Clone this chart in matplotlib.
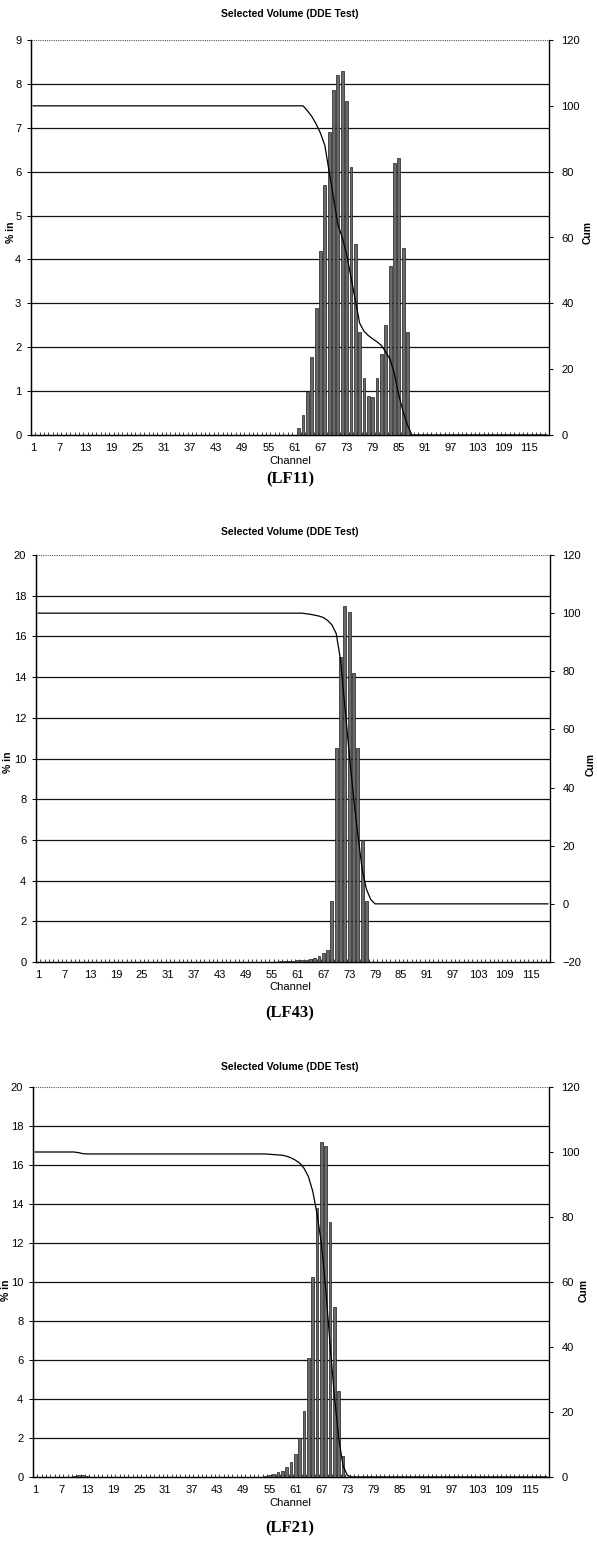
import numpy as np
import matplotlib
matplotlib.use('Agg')
import matplotlib.pyplot as plt

plt.rcParams['font.family'] = ['Liberation Sans', 'DejaVu Sans']

n_channels = 119
channels = np.arange(1, n_channels + 1)
tick_channels = list(range(1, 116, 6))

# LF11: % in per channel (bars) and cumulative (line)
lf11_start = 62
lf11_pct = [0.15, 0.45, 0.98, 1.78, 2.9, 4.2, 5.7, 6.9, 7.85, 8.2, 8.3, 7.6,
            6.1, 4.35, 2.35, 1.3, 0.9, 0.87, 1.3, 1.85, 2.5, 3.85, 6.2, 6.3,
            4.25, 2.35]
lf11_cum_start = 64
lf11_cum = [98.5, 96.8, 94.5, 91.7, 88.0, 80.0, 72.0, 64.0, 60.0, 55.0, 48.0,
            41.0, 34.0, 31.5, 30.2, 29.2, 28.3, 27.2, 25.2, 23.0, 18.5, 12.0,
            7.0, 3.0, 0.0]

# LF43
lf43_start = 57
lf43_pct = [0.03, 0.04, 0.05, 0.06, 0.08, 0.1, 0.12, 0.15, 0.2, 0.3, 0.45, 0.6,
            3.0, 10.5, 15.0, 17.5, 17.2, 14.2, 10.5, 6.0, 3.0]
lf43_cum_start = 63
lf43_cum = [99.8, 99.6, 99.3, 99.0, 98.5, 97.5, 96.0, 93.0, 84.0, 68.0, 52.0,
            37.0, 24.0, 12.0, 5.0, 1.5, 0.0]

# LF21
lf21_bump_start = 10
lf21_bump = [0.05, 0.1, 0.12, 0.05]
lf21_start = 54
lf21_pct = [0.05, 0.1, 0.17, 0.25, 0.33, 0.5, 0.75, 1.17, 2.0, 3.4, 6.1, 10.25,
            13.8, 17.2, 17.0, 13.1, 8.7, 4.4, 1.1]
lf21_cum_start = 11
lf21_cum = [99.8, 99.5] + [99.4] * 42 + [
    99.3, 99.2, 99.1, 99.0, 98.7, 98.2, 97.5, 96.6, 95.0, 92.5, 88.0, 81.0,
    72.0, 58.0, 41.0, 25.0, 12.0, 3.5, 0.5, 0.0]


def full_series(start, values, before=0.0, after=0.0):
    arr = np.full(n_channels, float(before))
    end = start - 1 + len(values)
    arr[start - 1:end] = values
    arr[end:] = after
    return arr


lf21_all = full_series(lf21_start, lf21_pct)
lf21_all[lf21_bump_start - 1:lf21_bump_start - 1 + len(lf21_bump)] = lf21_bump

panels = [
    dict(pct=full_series(lf11_start, lf11_pct),
         cum=full_series(lf11_cum_start, lf11_cum, 100.0, 0.0),
         rect=[31 / 597, 1 - 435 / 1545, 518 / 597, 395 / 1545],
         ylim=(0, 9), yticks=np.arange(0, 10, 1),
         ylim2=(0, 120), yticks2=np.arange(0, 121, 20),
         title_y=14, chan_y=461, tag_y=479, tag='(LF11)',
         ylab=(11, 232), cumlab=(588, 232)),
    dict(pct=full_series(lf43_start, lf43_pct),
         cum=full_series(lf43_cum_start, lf43_cum, 100.0, 0.0),
         rect=[36 / 597, 1 - 962 / 1545, 514 / 597, 407 / 1545],
         ylim=(0, 20), yticks=np.arange(0, 21, 2),
         ylim2=(-20, 120), yticks2=np.arange(-20, 121, 20),
         title_y=532, chan_y=987, tag_y=1013, tag='(LF43)',
         ylab=(8, 762), cumlab=(591, 765)),
    dict(pct=lf21_all,
         cum=full_series(lf21_cum_start, lf21_cum, 100.0, 0.0),
         rect=[33 / 597, 1 - 1477 / 1545, 516 / 597, 390 / 1545],
         ylim=(0, 20), yticks=np.arange(0, 21, 2),
         ylim2=(0, 120), yticks2=np.arange(0, 121, 20),
         title_y=1067, chan_y=1503, tag_y=1528, tag='(LF21)',
         ylab=(6, 1290), cumlab=(584, 1290)),
]

W, H = 597, 1545
fig = plt.figure(figsize=(W / 100, H / 100), dpi=100)

for p in panels:
    ax = fig.add_axes(p['rect'])
    ax.bar(channels, p['pct'], width=0.65, color='#6a6a6a',
           edgecolor='#1c1c1c', linewidth=0.5, zorder=3)
    ax.set_xlim(0.5, n_channels + 0.5)
    ax.set_ylim(*p['ylim'])
    ax.set_yticks(p['yticks'])
    for v in p['yticks'][1:-1]:
        ax.axhline(v, color='#111111', lw=0.9, zorder=1)
    ax.axhline(p['yticks'][-1], color='#555555', lw=0.8, ls=(0, (1, 1)),
               zorder=1)
    ax.set_xticks(tick_channels)
    ax.set_xticklabels([str(c) for c in tick_channels], fontsize=8)
    ax.set_xticks(np.arange(0.5, n_channels + 1, 1), minor=True)
    ax.tick_params(axis='x', which='major', length=0, pad=6)
    ax.tick_params(axis='x', which='minor', length=2.5, direction='in',
                   width=0.6, color='#222222')
    ax.tick_params(axis='y', labelsize=8, length=3, width=0.7, pad=4)
    ax.spines['top'].set_visible(False)
    ax.spines['left'].set_linewidth(1.0)
    ax.spines['bottom'].set_linewidth(1.0)

    ax2 = ax.twinx()
    ax2.plot(channels, p['cum'], color='black', lw=0.9, zorder=4)
    ax2.set_ylim(*p['ylim2'])
    ax2.set_yticks(p['yticks2'])
    ax2.tick_params(axis='y', labelsize=8, length=3, width=0.7, pad=6)
    ax2.spines['top'].set_visible(False)
    ax2.spines['right'].set_linewidth(0.9)

    fig.text(290 / W, 1 - p['title_y'] / H, 'Selected Volume (DDE Test)',
             ha='center', va='center', fontsize=7.5, fontweight='bold')
    fig.text(290 / W, 1 - p['chan_y'] / H, 'Channel',
             ha='center', va='center', fontsize=8)
    fig.text(290 / W, 1 - p['tag_y'] / H, p['tag'], ha='center', va='center',
             fontsize=12, fontweight='bold', family='Liberation Serif')
    fig.text(p['ylab'][0] / W, 1 - p['ylab'][1] / H, '% in', rotation=90,
             ha='center', va='center', fontsize=7.5, fontweight='bold')
    fig.text(p['cumlab'][0] / W, 1 - p['cumlab'][1] / H, 'Cum', rotation=90,
             ha='center', va='center', fontsize=7.5, fontweight='bold')

fig.savefig('out.png', dpi=100)
